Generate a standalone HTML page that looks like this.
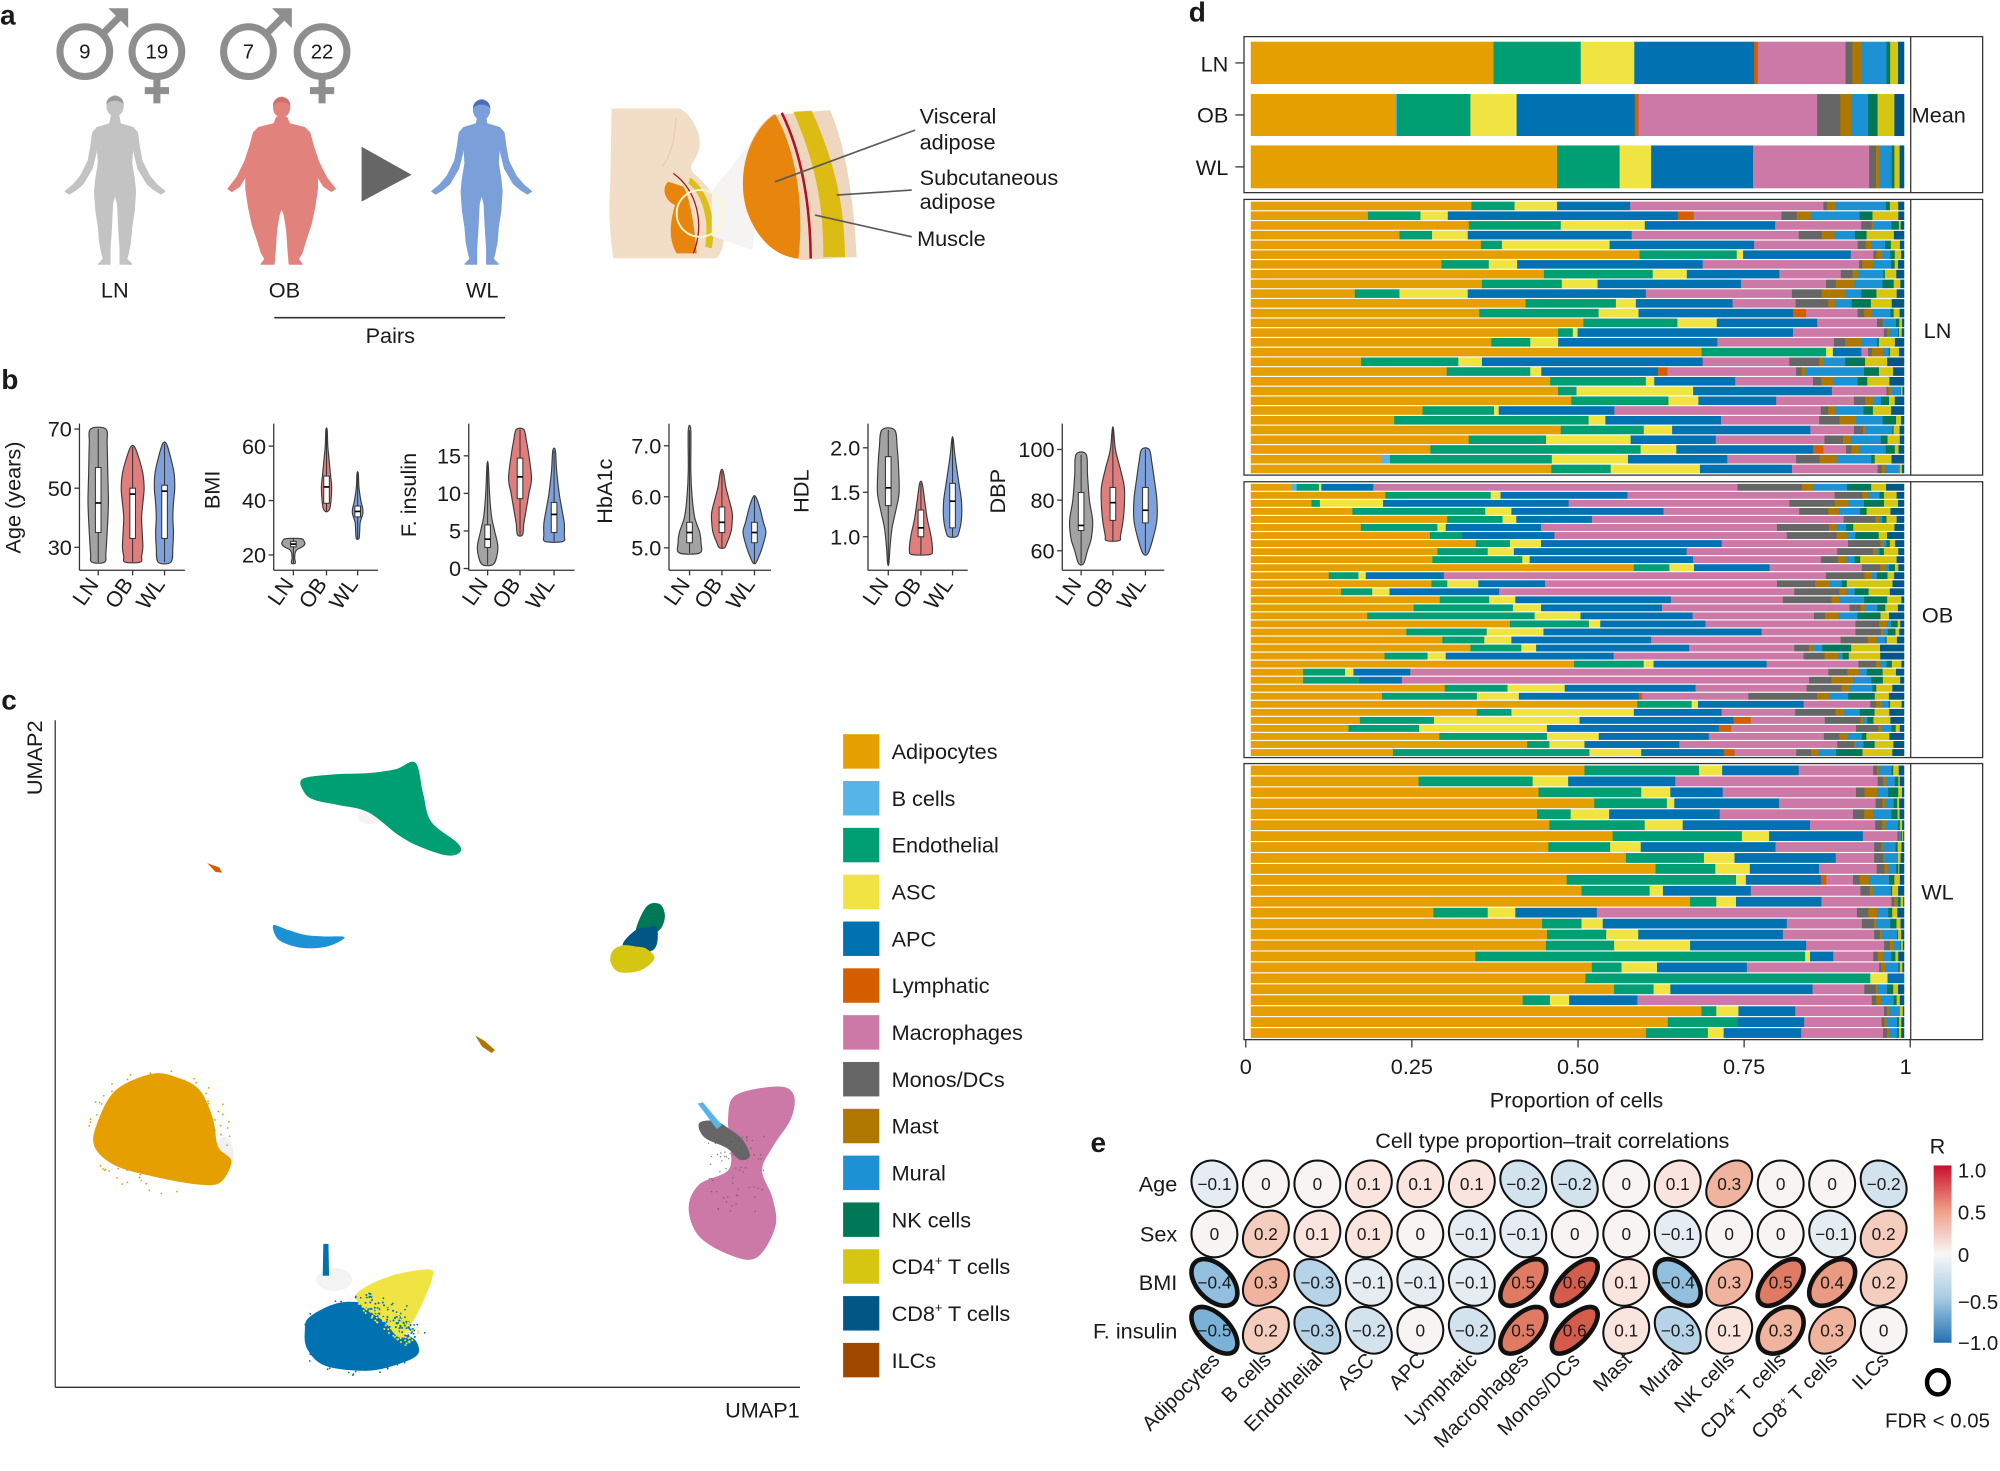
<!DOCTYPE html>
<html><head><meta charset="utf-8">
<style>
html,body{margin:0;padding:0;background:#fff;}
svg{display:block;}
text{font-family:"Liberation Sans",Arial,sans-serif;fill:#1a1a1a;}
</style></head>
<body>
<svg id="s" xmlns="http://www.w3.org/2000/svg" width="2000" height="1471" viewBox="0 0 1568 1153" preserveAspectRatio="none">
<defs>
<linearGradient id="cb" x1="0" y1="0" x2="0" y2="1">
<stop offset="0" stop-color="#c8102e"/>
<stop offset="0.25" stop-color="#f09c86"/>
<stop offset="0.5" stop-color="#f7f7f7"/>
<stop offset="0.75" stop-color="#a6cbe3"/>
<stop offset="1" stop-color="#2271b3"/>
</linearGradient>
</defs>
<rect width="1568" height="1153" fill="#fff"/>

<!-- panel letters -->
<g font-size="22" font-weight="bold">
<text x="0" y="19">a</text>
<text x="1" y="305">b</text>
<text x="1" y="556">c</text>
<text x="932" y="17">d</text>
<text x="855" y="903">e</text>
</g>

<!-- ===== Panel a ===== -->
<g fill="none" stroke="#8e8e8e" stroke-width="5.5">
<circle cx="66.5" cy="40.5" r="19.5"/>
<line x1="80.5" y1="26.5" x2="95" y2="12"/>
<circle cx="123" cy="40.5" r="19.5"/>
<line x1="123" y1="60" x2="123" y2="81"/>
<line x1="113.5" y1="71" x2="132.5" y2="71"/>
<circle cx="194.8" cy="40.5" r="19.5"/>
<line x1="208.8" y1="26.5" x2="223.3" y2="12"/>
<circle cx="252.5" cy="40.5" r="19.5"/>
<line x1="252.5" y1="60" x2="252.5" y2="81"/>
<line x1="243" y1="71" x2="262" y2="71"/>
</g>
<polygon fill="#8e8e8e" points="100.5,6.5 85,6.5 100.5,22"/>
<polygon fill="#8e8e8e" points="228.8,6.5 213.3,6.5 228.8,22"/>
<g font-size="16" fill="#8a8a8a" text-anchor="middle">
<text x="66.5" y="46" fill="#8a8a8a">9</text>
<text x="123" y="46" fill="#8a8a8a">19</text>
<text x="194.8" y="46" fill="#8a8a8a">7</text>
<text x="252.5" y="46" fill="#8a8a8a">22</text>
</g>
<g id="humans"></g>
<polygon fill="#666" points="283.5,115 283.5,158 322.7,137"/>
<g font-size="17" text-anchor="middle">
<text x="90" y="233">LN</text>
<text x="223" y="233">OB</text>
<text x="378" y="233">WL</text>
<text x="306" y="269">Pairs</text>
</g>
<line x1="215" y1="249" x2="396" y2="249" stroke="#333" stroke-width="1.2"/>

<!-- anatomy -->
<path fill="#f2ddc7" d="M479.6,85 L531.8,85 C538,86 545,96 547.5,104.6 C549.5,112 549,119 543.6,126.8 C541,130 541,133 545,137 C556,146 565,160 567.5,175 C569,188 566,198 561.9,202.5 L480.9,202.5 C478,185 477,160 478.3,149 C479,125 479,100 479.6,85 Z"/>
<path fill="none" stroke="#e6cdb4" stroke-width="1" d="M530,92 C529,108 527,120 519,131"/>
<path fill="#e8850c" d="M524,142.5 C518.8,146.4 520.1,156.8 529.2,160.7 C526.6,169.9 522.7,185.6 530.5,198.6 L546.2,198.6 C544.9,180.4 541,154.2 535.8,146.4 Z"/>
<path fill="#dcbf1a" d="M541,139 C552.8,146.4 563.2,169.9 558,194.7 L552.8,193.4 C556.7,172.5 550.1,151.6 539.7,143.8 Z"/>
<path fill="none" stroke="#a3121c" stroke-width="1" d="M527.9,135.9 C546.2,149 552.8,175.1 543.6,198.6"/>
<polygon fill="#f6f4f2" points="558,150 604,92 590,196 558,185"/>
<circle cx="548.8" cy="167.3" r="18.3" fill="none" stroke="#fff6c8" stroke-width="1.5"/>
<path fill="#efd6bf" d="M605,90.2 C585.4,104.6 577.6,138.5 585.4,164.7 C593.3,188.2 608.9,201.3 629.8,203.9 L671.6,201.3 C669,149 661.2,109.8 650.7,86.3 Z"/>
<path fill="#e8850c" d="M607.6,89.4 C585.4,104.6 577.6,138.5 585.4,164.7 C593.3,188.2 608.9,201.3 625.9,202.6 C629.8,169.9 627.2,122.9 607.6,89.4 Z"/>
<path fill="#dcbb12" d="M622,87.6 C642.9,136 645.5,170 645.5,201.3 L662.5,201.3 C662,170 658.6,136 636.4,86.8 Z"/>
<path fill="none" stroke="#b3121f" stroke-width="2" d="M612.9,88.4 C627.2,117.6 635.1,154.2 635.6,202.6"/>
<g stroke="#595959" stroke-width="1.3">
<line x1="607.6" y1="142.5" x2="717.4" y2="102"/>
<line x1="656" y1="152.9" x2="714.8" y2="149"/>
<line x1="639" y1="168.6" x2="714.8" y2="185.6"/>
</g>
<g font-size="17">
<text x="721" y="97">Visceral</text>
<text x="721" y="117">adipose</text>
<text x="721" y="145">Subcutaneous</text>
<text x="721" y="164">adipose</text>
<text x="719" y="193">Muscle</text>
</g>

<!-- ===== Panel b ===== -->
<g id="pb"></g>
<g font-size="17" text-anchor="middle">
<text transform="translate(16,390) rotate(-90)">Age (years)</text>
<text transform="translate(172,384) rotate(-90)">BMI</text>
<text transform="translate(326,388) rotate(-90)">F. insulin</text>
<text transform="translate(480,385) rotate(-90)">HbA1c</text>
<text transform="translate(634,385) rotate(-90)">HDL</text>
<text transform="translate(788,385) rotate(-90)">DBP</text>
</g>

<!-- ===== Panel c ===== -->
<g id="umap"></g>
<line x1="43.3" y1="564.5" x2="43.3" y2="1087.4" stroke="#333" stroke-width="1"/>
<line x1="43.3" y1="1087.4" x2="627.2" y2="1087.4" stroke="#333" stroke-width="1"/>
<text transform="translate(33,594) rotate(-90)" font-size="17" text-anchor="middle">UMAP2</text>
<text x="627" y="1111" font-size="17" text-anchor="end">UMAP1</text>
<g id="legend"></g>

<!-- ===== Panel d ===== -->
<g id="dbars"></g>
<g fill="none" stroke="#333" stroke-width="1">
<rect x="975.3" y="28.7" width="579.1" height="122.3"/>
<line x1="1498" y1="28.7" x2="1498" y2="151"/>
<rect x="975.3" y="156.3" width="579.1" height="216.1"/>
<line x1="1498" y1="156.3" x2="1498" y2="372.4"/>
<rect x="975.3" y="377.6" width="579.1" height="216.2"/>
<line x1="1498" y1="377.6" x2="1498" y2="593.8"/>
<rect x="975.3" y="598.5" width="579.1" height="216.4"/>
<line x1="1498" y1="598.5" x2="1498" y2="814.9"/>
<line x1="968.5" y1="49.3" x2="975.3" y2="49.3"/>
<line x1="968.5" y1="90.1" x2="975.3" y2="90.1"/>
<line x1="968.5" y1="130.8" x2="975.3" y2="130.8"/>
<line x1="976.7" y1="814.9" x2="976.7" y2="821"/>
<line x1="1106.9" y1="814.9" x2="1106.9" y2="821"/>
<line x1="1237.2" y1="814.9" x2="1237.2" y2="821"/>
<line x1="1367.4" y1="814.9" x2="1367.4" y2="821"/>
<line x1="1497.6" y1="814.9" x2="1497.6" y2="821"/>
</g>
<g font-size="17">
<text x="963" y="56" text-anchor="end">LN</text>
<text x="963" y="96" text-anchor="end">OB</text>
<text x="963" y="137" text-anchor="end">WL</text>
<text x="1520" y="96" text-anchor="middle">Mean</text>
<text x="1519" y="265" text-anchor="middle">LN</text>
<text x="1519" y="488" text-anchor="middle">OB</text>
<text x="1519" y="705" text-anchor="middle">WL</text>
<text x="976.7" y="842" text-anchor="middle">0</text>
<text x="1106.9" y="842" text-anchor="middle">0.25</text>
<text x="1237.2" y="842" text-anchor="middle">0.50</text>
<text x="1367.4" y="842" text-anchor="middle">0.75</text>
<text x="1494" y="842" text-anchor="middle">1</text>
<text x="1236" y="868" text-anchor="middle">Proportion of cells</text>
</g>

<!-- ===== Panel e ===== -->
<text x="1217" y="900" font-size="17" text-anchor="middle">Cell type proportion–trait correlations</text>
<g font-size="17" text-anchor="end">
<text x="923" y="934">Age</text>
<text x="923" y="973">Sex</text>
<text x="923" y="1011">BMI</text>
<text x="923" y="1049">F. insulin</text>
</g>
<g id="corr"></g>
<g id="collabs" font-size="16" text-anchor="end"></g>
<text x="1519" y="904" font-size="17" text-anchor="middle">R</text>
<rect x="1516" y="913.5" width="14" height="139" fill="url(#cb)"/>
<g font-size="16">
<text x="1535" y="923">1.0</text>
<text x="1535" y="956">0.5</text>
<text x="1535" y="989">0</text>
<text x="1535" y="1026">−0.5</text>
<text x="1535" y="1058">−1.0</text>
</g>
<ellipse cx="1519.3" cy="1083.5" rx="8.5" ry="9.5" fill="none" stroke="#000" stroke-width="3.5"/>
<text x="1519" y="1119" font-size="16" text-anchor="middle">FDR &lt; 0.05</text>
</svg>

<script>
(function(){
const S=document.getElementById('s');
const NS='http://www.w3.org/2000/svg';
function E(tag,a,p){const e=document.createElementNS(NS,tag);for(const k in a)e.setAttribute(k,a[k]);(p||S).appendChild(e);return e;}
function T(txt,a,p){const e=E('text',a,p);e.textContent=txt;return e;}
const r2=v=>Math.round(v*100)/100;
function smooth(pts){
  const n=pts.length;let d='M'+r2(pts[0][0])+','+r2(pts[0][1]);
  for(let i=0;i<n;i++){
    const p0=pts[(i-1+n)%n],p1=pts[i],p2=pts[(i+1)%n],p3=pts[(i+2)%n];
    const c1=[p1[0]+(p2[0]-p0[0])/6,p1[1]+(p2[1]-p0[1])/6];
    const c2=[p2[0]-(p3[0]-p1[0])/6,p2[1]-(p3[1]-p1[1])/6];
    d+='C'+r2(c1[0])+','+r2(c1[1])+' '+r2(c2[0])+','+r2(c2[1])+' '+r2(p2[0])+','+r2(p2[1]);
  }
  return d+'Z';
}
let seed=12345;function rnd(){seed=(seed*1664525+1013904223)%4294967296;return seed/4294967296;}
const C={o:'#E69F00',b:'#56B4E9',g:'#009E73',y:'#F0E442',a:'#0072B2',l:'#D55E00',p:'#CC79A7',m:'#666666',t:'#AD7700',u:'#1C91D4',n:'#007756',c4:'#D5C711',c8:'#005685',i:'#A04700'};

/* ---------- humans ---------- */
const H=document.getElementById('humans');
function human(cx,pts,col,headCol,hy){
  const right=pts.map(([x,y])=>[cx+x,y]);
  const left=pts.slice().reverse().map(([x,y])=>[cx-x,y]);
  const all=right.concat(left);
  E('path',{d:'M'+all.map(p=>r2(p[0])+','+r2(p[1])).join('L')+'Z',fill:col,stroke:col,'stroke-width':1,'stroke-linejoin':'round'},H);
  E('ellipse',{cx:cx,cy:hy,rx:6.8,ry:8.3,fill:col},H);
  E('path',{d:`M${cx-6.8},${hy-1} C${cx-7},${hy-10} ${cx+7},${hy-10} ${cx+6.8},${hy-1} C${cx+4},${hy-5} ${cx-4},${hy-5} ${cx-6.8},${hy-1}Z`,fill:headCol},H);
}
const slim=[[3,91],[4,97],[14,100],[17.5,104],[19,115],[21,126],[27,138],[33,145],[39,150],[36,152],[31,149],[25,144],[18,132],[15,120],[14,113],[13,128],[15,140],[16,150],[15,165],[13,178],[12,190],[10,200],[9,203],[13,207],[4,207],[4,195],[3,180],[2,160],[0,152]];
const fat=[[4,92],[6,97],[18,100],[22,104],[25,115],[29,127],[35,139],[42,148],[39,150],[33,146],[28,138],[26,130],[23,112],[24,120],[28,135],[28,148],[26,162],[23,176],[19,188],[16,198],[13,203],[16,207],[6,207],[5,195],[4,180],[2,168],[0,163]];
human(90.2,slim,'#c3c3c3','#9a9a9a',83);
human(220.8,fat,'#e2827c','#d46d68',84);
human(377.6,slim,'#7b9fd8','#4d6cb5',86);

/* ---------- panel b ---------- */
const PB=document.getElementById('pb');
const B=[
 {ax:62.3,xe:145,m:v=>336.3+(70-v)*2.3175,t:[[70,'70'],[50,'50'],[30,'30']],cs:[77,104,129],
  v:[{p:[[70,6],[65,7],[55,7.5],[45,8],[35,7],[28,6],[25,5]],q:[35,45,57]},
     {p:[[64,1.5],[60,5],[55,8],[50,9],[45,8],[40,7],[35,7.5],[30,8],[27,7],[25,6]],q:[33,48,50]},
     {p:[[65,1.5],[60,5],[55,7.5],[50,8],[45,7],[40,6.5],[35,7],[30,6.5],[25,5]],q:[33,49,51]}]},
 {ax:214.6,xe:296.4,m:v=>349.7+(60-v)*2.1325,t:[[60,'60'],[40,'40'],[20,'20']],cs:[230,256,280.4],
  v:[{p:[[26,6],[25,8.5],[24,9],[23,7],[22,3],[21,1.5],[19,1],[17,1.5]],q:[23,24,25]},
     {p:[[66,0.5],[60,1],[55,2],[50,3],[45,4],[40,3.5],[37,2.5],[36,1]],q:[39,45,49]},
     {p:[[50,0.5],[45,1],[40,2.5],[37,4],[35,4],[32,2],[28,1.5],[26,1]],q:[34,36,38]}]},
 {ax:367.5,xe:450.5,m:v=>445.6-v*5.887,t:[[15,'15'],[10,'10'],[5,'5'],[0,'0']],cs:[382.3,407.7,434.4],
  v:[{p:[[13.8,0.5],[10,1.5],[7,3],[5,5.5],[3,8],[1.5,7],[0.5,4]],q:[2.8,3.9,5.8]},
     {p:[[18.5,3],[17,5],[15,7],[12,9],[10,7],[8,5],[6,3],[4.5,2]],q:[9.3,12.2,14.7]},
     {p:[[15.7,1],[13,2],[10,4],[8,6],[6,8],[4.5,8],[3.6,7]],q:[4.8,7.2,8.8]}]},
 {ax:524.5,xe:604.5,m:v=>429.4-(v-5)*40,t:[[7,'7.0'],[6,'6.0'],[5,'5.0']],cs:[540.6,566,591.5],
  v:[{p:[[7.3,1],[6.5,1],[6.0,2],[5.6,4],[5.3,8],[5.1,9],[4.9,8]],q:[5.1,5.3,5.5]},
     {p:[[6.5,1],[6.2,3],[6.0,5],[5.7,8],[5.5,8],[5.3,7],[5.1,4],[5.0,2]],q:[5.3,5.5,5.8]},
     {p:[[6.0,1],[5.8,4],[5.5,7],[5.3,9],[5.0,6],[4.8,3],[4.7,1]],q:[5.1,5.3,5.5]}]},
 {ax:680.5,xe:758.7,m:v=>420.7-(v-1)*69.7,t:[[2,'2.0'],[1.5,'1.5'],[1,'1.0']],cs:[696.4,722,746.8],
  v:[{p:[[2.2,5],[2.0,7],[1.8,8],[1.5,8.5],[1.3,6],[1.1,3],[0.9,1.5],[0.7,0.5]],q:[1.35,1.55,1.9]},
     {p:[[1.6,1],[1.4,3],[1.2,5],[1.0,8],[0.85,9],[0.8,7]],q:[1.0,1.1,1.3]},
     {p:[[2.1,0.5],[1.9,2],[1.6,5],[1.4,7],[1.2,7],[1.05,5],[1.0,3]],q:[1.1,1.4,1.6]}]},
 {ax:832.8,xe:912.8,m:v=>392-(v-80)*1.985,t:[[100,'100'],[80,'80'],[60,'60']],cs:[847.6,872.5,898],
  v:[{p:[[98,4],[90,5],[80,6.5],[72,9],[65,8],[60,5],[55,2]],q:[68,70,83]},
     {p:[[108,0.5],[100,2],[92,6],[85,9],[78,9],[72,8],[66,6],[64,5]],q:[72,79,85]},
     {p:[[100,3],[95,5],[88,7],[80,9],[72,9],[65,6],[59,2]],q:[71,76,85]}]}
];
const VC=['#a3a3a3','#e07d7d','#7fa2dd'];
const XL=['LN','OB','WL'];
B.forEach(pn=>{
  E('line',{x1:pn.ax,y1:332,x2:pn.ax,y2:447,stroke:'#333','stroke-width':1},PB);
  E('line',{x1:pn.ax,y1:447,x2:pn.xe,y2:447,stroke:'#333','stroke-width':1},PB);
  pn.t.forEach(([v,l])=>{
    const y=pn.m(v);
    E('line',{x1:pn.ax-4,y1:y,x2:pn.ax,y2:y,stroke:'#333','stroke-width':1},PB);
    T(l,{x:pn.ax-6,y:y+6,'font-size':17,'text-anchor':'end'},PB);
  });
  pn.v.forEach((vv,i)=>{
    const cx=pn.cs[i];
    const right=vv.p.map(([v,w])=>[cx+w,pn.m(v)]);
    const left=vv.p.slice().reverse().map(([v,w])=>[cx-w,pn.m(v)]);
    E('path',{d:smooth(right.concat(left)),fill:VC[i],stroke:'#3a3a3a','stroke-width':0.9},PB);
    const top=pn.m(vv.p[0][0]),bot=pn.m(vv.p[vv.p.length-1][0]);
    const [q1,md,q3]=vv.q;
    E('line',{x1:cx,y1:top,x2:cx,y2:bot,stroke:'#333','stroke-width':0.8},PB);
    E('rect',{x:cx-2.2,y:pn.m(q3),width:4.4,height:pn.m(q1)-pn.m(q3),fill:'#fff',stroke:'#333','stroke-width':0.8},PB);
    E('line',{x1:cx-2.2,y1:pn.m(md),x2:cx+2.2,y2:pn.m(md),stroke:'#000','stroke-width':1.3},PB);
    E('line',{x1:cx,y1:447,x2:cx,y2:451,stroke:'#333','stroke-width':1},PB);
    T(XL[i],{transform:`translate(${cx+1},${458}) rotate(-55)`,'font-size':17,'text-anchor':'end'},PB);
  });
});

/* ---------- panel c: UMAP ---------- */
const U=document.getElementById('umap');
function blob(pts,col,op){E('path',{d:smooth(pts),fill:col,opacity:op||1},U);}
function speck(cx,cy,rx,ry,n,col){
  for(let k=0;k<n;k++){
    const t=rnd()*2*Math.PI,rr=0.85+rnd()*0.3;
    E('circle',{cx:r2(cx+Math.cos(t)*rx*rr),cy:r2(cy+Math.sin(t)*ry*rr),r:0.7,fill:col},U);
  }
}
// faint gray zones
E('ellipse',{cx:176,cy:905,rx:7,ry:14,fill:'#f1f1f1'},U);
E('ellipse',{cx:262,cy:1003,rx:14,ry:9,fill:'#f3f3f3'},U);
E('ellipse',{cx:290,cy:640,rx:10,ry:6,fill:'#f4f4f4'},U);
// endothelial
blob([[237,610.7],[262,607],[288.5,606],[310,603],[325.6,597.8],[331.7,621.8],[338,644],[358.5,660.6],[360.6,668],[350.3,670.5],[330,664],[313,655],[288.5,636.6],[265,631],[247.3,627.3],[239,621.8]],C.g);
// lymphatic
E('path',{d:'M162.5,676.5 L172,680 L174,684 L169,683.5 Z',fill:C.l},U);
// mural crescent
blob([[214.3,725.2],[226,729],[240,733],[255,734],[270,734.5],[262,740],[250,743],[237,743],[225,740],[217,735]],C.u);
// NK / CD8 / CD4
blob([[506.9,710.5],[517.2,708.6],[521.3,717.9],[517.2,728.9],[504.8,734.5],[498.6,728.9]],C.n);
blob([[498.6,728.9],[508,727],[515.1,727],[513.1,743.7],[494.5,747.4],[488.3,740]],C.c8);
blob([[488.3,741],[499,742],[506.9,743.7],[513.1,751.1],[502.8,760.3],[486.3,762.2],[478.9,754.8],[480.1,745.6]],C.c4);
// mast
E('path',{d:'M372.5,811.5 L380,816 L388,823 L385.5,825.5 L378,820.5 Z',fill:C.t},U);
// adipocytes
blob([[119.5,841.6],[140,845],[156.6,854.6],[166.9,876.7],[171,898.9],[181.3,910],[173,926.6],[156.6,928.5],[123.6,922.9],[90.7,913.7],[74.2,898.9],[76.2,880.4],[90.7,854.6]],C.o);
speck(126,886,50,44,90,C.o);
// macrophages
blob([[577,858.3],[610,851.6],[622.3,858.3],[620.2,876.7],[605.8,898.9],[597.5,917.4],[605.8,939.5],[607.8,961.7],[593.4,985.7],[572.8,983.9],[548.1,969.1],[539.9,946.9],[548.1,928.5],[570.8,917.4],[572.8,898.9],[570.8,876.7]],C.p);
blob([[548.1,880.4],[560.5,878.6],[572,885],[582,893],[588,906],[580,909],[570,900],[552.2,891.5]],C.m);
E('path',{d:'M547,865 L551,864 L566,882 L562,885 Z',fill:C.b},U);
// APC / ASC
E('path',{d:'M253.5,975 L257.5,975 L258,1000 L253,1000 Z',fill:C.a},U);
blob([[243.1,1031.9],[267.9,1020.8],[296.7,1024.5],[313.2,1043],[325.6,1050.4],[327.6,1061.5],[313.2,1068.9],[288.5,1074.4],[255.5,1070.7],[241.1,1057.8],[239,1043]],C.a);
blob([[280.2,1013.5],[305,1000.5],[335.9,995],[338.7,1002.4],[329.7,1024.5],[321.4,1039.3],[313.2,1048.5],[300.8,1035.6],[284.4,1024.5]],C.y);
speck(284,1047,46,28,60,C.a);
// mixing speckles
for(let k=0;k<220;k++){
  const t=rnd(),s=(rnd()-0.5)*16;
  const x=284+t*40+s*0.7, y=1018+t*32-s*0.7;
  E('circle',{cx:r2(x),cy:r2(y),r:0.8,fill:rnd()<0.5?C.a:C.y},U);
}
for(let k=0;k<70;k++){
  const x=555+rnd()*45,y=890+rnd()*60;
  E('circle',{cx:r2(x),cy:r2(y),r:0.6,fill:'#5a5a5a',opacity:0.7},U);
}
// legend
const LG=document.getElementById('legend');
const legs=[['o','Adipocytes'],['b','B cells'],['g','Endothelial'],['y','ASC'],['a','APC'],['l','Lymphatic'],['p','Macrophages'],['m','Monos/DCs'],['t','Mast'],['u','Mural'],['n','NK cells'],['c4','CD4'],['c8','CD8'],['i','ILCs']];
legs.forEach(([k,l],i)=>{
  const y=575.5+i*36.7;
  E('rect',{x:661,y:y,width:28.4,height:27,fill:C[k]},LG);
  const t=E('text',{x:699,y:y+19.5,'font-size':17},LG);
  if(k==='c4'||k==='c8'){
    t.appendChild(document.createTextNode(l));
    const s1=document.createElementNS(NS,'tspan');s1.setAttribute('font-size','10');s1.setAttribute('dy','-7');s1.textContent='+';t.appendChild(s1);
    const s2=document.createElementNS(NS,'tspan');s2.setAttribute('dy','7');s2.textContent=' T cells';t.appendChild(s2);
  } else t.textContent=l;
});

/* ---------- panel d ---------- */
const D=document.getElementById('dbars');
const X0=980.6,W=512;
function drawRow(y,h,segs){
  let st=0;
  segs.forEach(([k,e])=>{
    if(e>st+0.0005){
      E('rect',{x:r2(X0+st*W),y:r2(y),width:r2((e-st)*W+0.35),height:r2(h),fill:C[k]},D);
    }
    st=Math.max(st,e);
  });
}
const TK=['m','t','u','n','c4','c8'];
function rowSegs(r,base,w,tw){
  const f=v=>Math.min(1,(v-base)/w);
  const [o,g,y,b,p]=r;const opt=r[5]||{};
  const s=[['o',f(o)]];
  if(opt.b)s.push(['b',f(o+opt.b)]);
  s.push(['g',f(g)],['y',f(y)],['a',f(b)]);
  if(opt.l)s.push(['l',f(b+opt.l)]);
  s.push(['p',f(p)]);
  const start=f(p),rest=1-start;
  const ws=tw.map(x=>x*(0.2+rnd()*1.6));const tot=ws.reduce((a,c)=>a+c,0);
  let acc=start;
  TK.forEach((k,i)=>{acc+=rest*ws[i]/tot;s.push([k,Math.min(acc,1)]);});
  return s;
}
const LN=[[555,637,718,857,1225],[358,458,510,948,1145,{l:30}],[550,725,885,1133,1297],[418,480,548,860,1178],[573,613,818,1093,1290],[875,1060,1072,1277,1320],[498,588,642,995,1293],[693,900,965,1141,1258],[575,727,795,1068,1230],[333,418,548,887,1165],[658,830,868,1052,1172],[570,797,873,1167,1290,{l:25}],[768,947,1022,1213,1327],[720,748,757,1167,1340],[593,667,720,1023,1245],[993,1230,1243,1297,1310],[345,530,575,995,1160],[508,667,688,910,1173,{l:18}],[705,887,903,1057,1205],[720,755,977,1241,1345],[745,930,987,1135,1283],[462,598,607,827,1220],[408,778,810,1030,1217],[725,883,937,1200,1283],[550,697,858,1020,1227],[477,877,945,1205,1268,{l:20}],[383,708,853,1042,1173,{b:17}],[707,820,990,1165,1328]];
const OB=[[125,180,185,290,1028,{b:10}],[315,528,548,805,1225],[165,182,310,686,1133],[248,517,570,878,1153],[440,552,580,733,1243],[265,420,437,630,1108],[405,470,470,657,1128],[498,567,630,996,1252],[420,522,575,925,1230],[410,592,607,938,1197],[818,890,940,1093,1280],[200,260,275,433,1207],[408,440,503,638,1108],[225,288,323,545,1143],[425,525,578,893,1120],[372,573,630,875,1255],[278,617,710,937,1183],[567,727,750,963,1267],[357,520,635,1077,1267],[430,515,570,853,1237],[487,590,620,930,1143],[313,400,437,777,1162],[697,838,858,1087,1273],[148,233,250,365,1212],[148,262,262,348,1173],[435,562,678,943,1168],[308,500,585,828,1050,{l:7}],[825,935,948,1162,1297],[500,570,818,996,1145],[263,413,708,1020,1205,{l:35}],[240,383,642,990,1268,{l:25}],[424,642,747,970,1203],[602,647,718,910,1230],[330,728,833,1000,1147,{l:22}]];
const WL=[[718,950,997,1152,1303],[382,613,685,902,1312],[625,833,892,998,1268],[738,885,900,1112,1308],[622,690,768,992,1262],[647,840,917,1175,1307],[775,1037,1092,1282,1352],[645,770,832,1105,1305],[802,960,1022,1227,1305],[862,983,1053,1193,1310],[682,1025,1045,1197,1262,{l:11}],[712,850,877,1055,1277],[932,985,1025,1198,1340],[412,522,578,743,1270],[632,712,755,1128,1280],[642,762,827,1120,1305],[640,778,932,1167,1325],[497,1165,1175,1222,1303],[733,793,865,1047,1315],[720,1297,1332,1365,1365],[778,858,892,1180,1285],[593,648,687,825,1300],[955,985,1030,1145,1325],[887,1028,1028,1163,1320],[843,968,1000,1157,1323]];
function group(rows,base,w,y0,y1,tw){
  const n=rows.length,pt=(y1-y0)/n;
  rows.forEach((r,i)=>drawRow(y0+i*pt+0.45,pt-0.9,rowSegs(r,base,w,tw)));
}
group(LN,135,1243,157.6,371.4,[0.15,0.15,0.4,0.1,0.12,0.08]);
group(OB,42,1323,378.8,593,[0.35,0.1,0.15,0.12,0.18,0.1]);
group(WL,42,1323,599.6,814,[0.2,0.12,0.4,0.08,0.1,0.1]);
const mf=v=>(v-135)/1243;
const MEAN=[
 [32.7,65.9,[['o',597],['g',763],['y',865],['a',1093],['l',1100],['p',1267],['m',1280],['t',1297],['u',1345],['n',1352],['c4',1367],['c8',1378]]],
 [73.7,106.6,[['o',410],['b',413],['g',553],['y',641],['a',866],['l',873],['p',1213],['m',1257],['t',1278],['u',1310],['n',1328],['c4',1360],['c8',1378]]],
 [114,147.6,[['o',718],['g',837],['y',897],['a',1091],['p',1312],['m',1325],['t',1332],['u',1355],['n',1360],['c4',1370],['c8',1378]]]
];
MEAN.forEach(([a,b,s])=>drawRow(a,b-a,s.map(([k,v])=>[k,mf(v)])));

/* ---------- panel e ---------- */
const CR=document.getElementById('corr');
const vals=[[-0.1,0,0,0.1,0.1,0.1,-0.2,-0.2,0,0.1,0.3,0,0,-0.2],
[0,0.2,0.1,0.1,0,-0.1,-0.1,0,0,-0.1,0,0,-0.1,0.2],
[-0.4,0.3,-0.3,-0.1,-0.1,-0.1,0.5,0.6,0.1,-0.4,0.3,0.5,0.4,0.2],
[-0.5,0.2,-0.3,-0.2,0,-0.2,0.5,0.6,0.1,-0.3,0.1,0.3,0.3,0]];
const sig=[[],[],[0,6,7,9,11,12],[0,6,7,11]];
const cmap={'-0.5':'#7ab2d7','-0.4':'#92bfdd','-0.3':'#b6d3e7','-0.2':'#d2e3ee','-0.1':'#e5edf3','0':'#f7f4f3','0.1':'#f9e5dd','0.2':'#f5cdbe','0.3':'#f0b49e','0.4':'#e99a82','0.5':'#e07b63','0.6':'#d55b4a'};
const rowsY=[927.9,967.2,1005.2,1042.7];
vals.forEach((row,ri)=>{
  row.forEach((v,ci)=>{
    const cx=952.1+ci*40.36,cy=rowsY[ri];
    const rr=v*1.12;const d=Math.acos(Math.max(-0.99,Math.min(0.99,rr)));
    const pts=[];
    for(let k=0;k<64;k++){const t=k/64*2*Math.PI;pts.push([cx+18*Math.cos(t+d/2),cy-18.3*Math.cos(t-d/2)]);}
    const isS=sig[ri].indexOf(ci)>=0;
    E('path',{d:'M'+pts.map(p=>r2(p[0])+','+r2(p[1])).join('L')+'Z',fill:cmap[String(v)]||'#f7f4f3',stroke:'#111','stroke-width':isS?3.6:1.6},CR);
    const s=v<0?'−'+String(-v):String(v);
    T(s,{x:cx,y:cy+4.8,'font-size':13.5,'text-anchor':'middle',fill:'#222'},CR);
  });
});
const CL=document.getElementById('collabs');
const cols=['Adipocytes','B cells','Endothelial','ASC','APC','Lymphatic','Macrophages','Monos/DCs','Mast','Mural','NK cells','CD4','CD8','ILCs'];
cols.forEach((l,i)=>{
  const cx=952.1+i*40.36;
  const t=E('text',{transform:`translate(${r2(cx+5)},1067) rotate(-45)`},CL);
  if(l==='CD4'||l==='CD8'){
    t.appendChild(document.createTextNode(l));
    const s1=document.createElementNS(NS,'tspan');s1.setAttribute('font-size','9');s1.setAttribute('dy','-6');s1.textContent='+';t.appendChild(s1);
    const s2=document.createElementNS(NS,'tspan');s2.setAttribute('dy','6');s2.textContent=' T cells';t.appendChild(s2);
  } else t.textContent=l;
});
})();
</script>
</body></html>
